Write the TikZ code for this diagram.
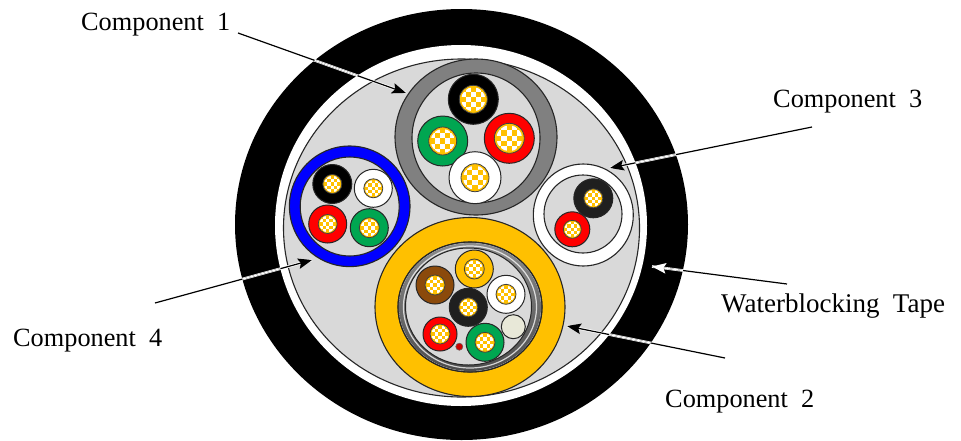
\documentclass[tikz,border=0pt]{standalone}
\usepackage{fontspec}
\setmainfont{Liberation Serif}
\usetikzlibrary{arrows.meta}
\definecolor{coreY}{HTML}{FFC000}
\definecolor{fillG}{HTML}{D9D9D9}
\definecolor{cabG}{HTML}{00A651}
\definecolor{brn}{HTML}{8B4A0B}
\definecolor{ringG}{HTML}{808080}
\definecolor{blk}{HTML}{1F1F1F}
\definecolor{pale}{HTML}{E8E8D8}
\tikzset{
 outl/.style={draw=black!85,line width=1.1pt},
 lbl/.style={font=\fontsize{26.3}{30}\selectfont,inner sep=0pt,anchor=base west,text=black},
 lead/.style={draw=black,line width=1.2pt,-{Stealth[length=14pt,width=10.5pt,inset=2.5pt]}},
 leadw/.style={draw=white,line width=1.2pt,-{Stealth[length=14pt,width=10.5pt,inset=2.5pt]}},
 halo/.style={draw=white,line width=2.6pt},
}
% \cab{x}{y}{R}{colour}{r}: sheath, then a yellow core with a white checker
\newcommand{\cab}[5]{%
 \fill[#4,draw=black!85,line width=1pt] (#1,#2) circle[radius=#3];
 \fill[coreY] (#1,#2) circle[radius=#5];
 \begin{scope}
  \clip (#1,#2) circle[radius=0.86*#5];
  \foreach \i/\j in {-1/-2,1/-2,-2/-1,0/-1,2/-1,-1/0,1/0,-2/1,0/1,2/1,-1/2,1/2}{
   \fill[white] ({#1+(\i-.5)*0.36*#5},{#2+(\j-.5)*0.36*#5}) rectangle ++({0.36*#5},{0.36*#5});}
 \end{scope}
 \draw[black!75,line width=.8pt] (#1,#2) circle[radius=#5];
}
\begin{document}
\begin{tikzpicture}[x=1pt,y=-1pt]
\useasboundingbox (0,0) rectangle (961,440);
\fill[black] (461.5,224.5) ellipse[x radius=226.5,y radius=215.5];
\fill[white] (461,225.5) ellipse[x radius=186,y radius=180.5];
\fill[fillG,outl] (461.5,228) ellipse[x radius=178,y radius=169];
% component 1
\fill[ringG,outl] (476,137) ellipse[x radius=81,y radius=78];
\fill[fillG,outl] (476,138) ellipse[x radius=64,y radius=65];
\cab{473.3}{99.3}{25}{black}{14}
\cab{442.7}{141}{25}{cabG}{14}
\cab{509.3}{138.3}{25}{red}{15}
\cab{475}{177.7}{26}{white}{14}
% component 4
\fill[blue,outl] (349.7,206.3) circle[radius=60.3];
\fill[fillG,outl] (349.7,206.5) circle[radius=49.5];
\cab{332.3}{184}{19.5}{black}{9.5}
\cab{373.3}{188.3}{19}{white}{9.5}
\cab{327.7}{224}{19}{red}{9.5}
\cab{369.3}{227.7}{19}{cabG}{10}
% component 3
\fill[white,outl] (583.3,215) ellipse[x radius=50,y radius=51];
\fill[fillG,outl] (583,214) circle[radius=39];
\cab{593.3}{198.3}{19.5}{blk}{9.5}
\cab{572.3}{229.3}{17.5}{red}{9}
% component 2
\fill[coreY,outl] (470,307) ellipse[x radius=95,y radius=89.5];
\fill[fillG,outl] (470,307) ellipse[x radius=72,y radius=65];
\shade[even odd rule,top color=black!45,bottom color=black!70]
  (470,307) ellipse[x radius=71,y radius=64] (468.5,306.5) ellipse[x radius=63,y radius=58.5];
\draw[white,opacity=.75,line width=1.2pt] (470,307) ellipse[x radius=66.5,y radius=61];
\draw[black!85,line width=1pt] (468.5,306.5) ellipse[x radius=63,y radius=58.5];
\draw[black!85,line width=1pt] (470,307) ellipse[x radius=72,y radius=65];
\cab{474.3}{269}{19}{coreY}{10}
\cab{435}{285}{19}{brn}{10}
\cab{506}{294.3}{19}{white}{10}
\cab{468.3}{307.3}{19}{blk}{9.5}
\cab{440}{334}{17}{red}{10}
\cab{485}{342.3}{19}{cabG}{10}
\fill[pale,draw=black!85,line width=1pt] (513.3,326.7) circle[radius=12];
\fill[red!80!black,draw=black!60,line width=.5pt] (459.3,346.7) circle[radius=3.6];
% labels
\node[lbl] (c1) at (81,30) {Component\ \ 1};
\node[lbl] (c3) at (773,107) {Component\ \ 3};
\node[lbl,font=\fontsize{27}{30}\selectfont] (wt) at (721,312) {Waterblocking\ \ Tape};
\node[lbl] (c2) at (665,407) {Component\ \ 2};
\node[lbl] (c4) at (13,346) {Component\ \ 4};
% leaders
\coordinate (a1s) at (238,33); \coordinate (a1e) at (406,93);
\coordinate (a3s) at (812,127); \coordinate (a3e) at (610,168);
\coordinate (a5s) at (787,284); \coordinate (a5e) at (652,266.5);
\coordinate (a2s) at (725,358); \coordinate (a2e) at (567,326);
\coordinate (a4s) at (155,303); \coordinate (a4e) at (312,260);
\foreach \s/\e in {a1s/a1e,a3s/a3e,a5s/a5e,a2s/a2e,a4s/a4e}{
 \draw[halo] (\s) -- (\e);
 \draw[lead] (\s) -- (\e);
}
\begin{scope}[even odd rule]
 \clip (461.5,224.5) ellipse[x radius=226.5,y radius=215.5]
   (461,225.5) ellipse[x radius=186,y radius=180.5];
 \foreach \s/\e in {a1s/a1e,a3s/a3e,a5s/a5e,a2s/a2e,a4s/a4e}{
  \draw[leadw] (\s) -- (\e);
 }
\end{scope}
\end{tikzpicture}
\end{document}
